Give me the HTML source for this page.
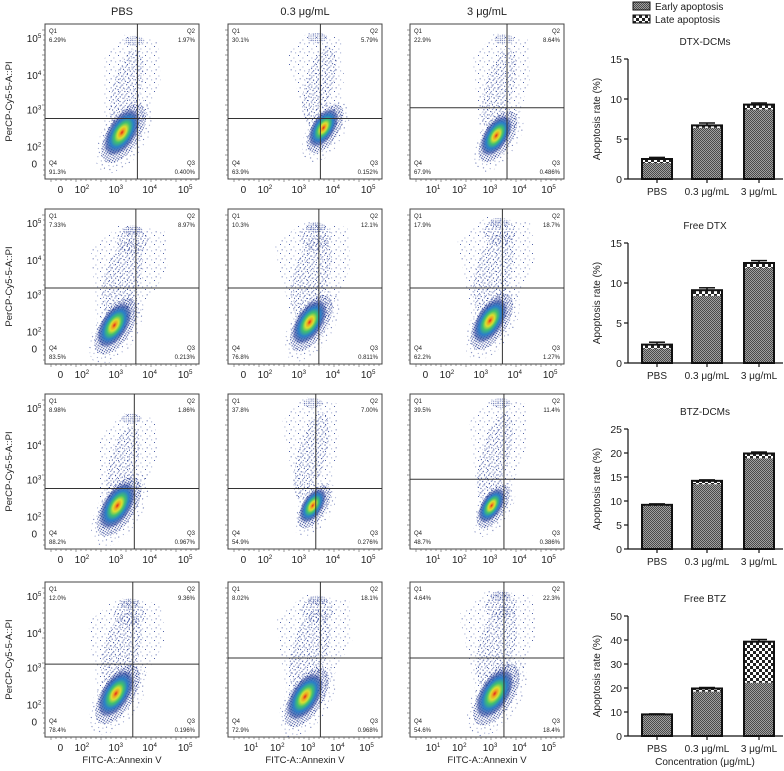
<!DOCTYPE html>
<html><head><meta charset="utf-8">
<style>
html,body{margin:0;padding:0;background:#fff;}
body{width:784px;height:771px;overflow:hidden;font-family:"Liberation Sans",Arial,sans-serif;}
svg{display:block}
</style></head>
<body>
<svg id="fig" width="784" height="771" viewBox="0 0 784 771" xmlns="http://www.w3.org/2000/svg" font-family="Liberation Sans, Arial, sans-serif">
<defs>
<pattern id="dotsDense" width="2.2" height="2.2" patternUnits="userSpaceOnUse"><rect x="0.3" y="0.3" width="1.1" height="1.1" fill="#1a2f8c"/></pattern>
<pattern id="dotsMid" width="7" height="7" patternUnits="userSpaceOnUse"><rect x="0.5" y="0.6" width="1" height="1" fill="#24398f"/><rect x="3.1" y="2.2" width="0.9" height="0.9" fill="#3a4fa5"/><rect x="5.4" y="4.6" width="1" height="1" fill="#24398f"/><rect x="1.8" y="5.1" width="0.9" height="0.9" fill="#4a5fb0"/><rect x="4.6" y="0.2" width="0.8" height="0.8" fill="#24398f"/><rect x="2.5" y="3.6" width="0.8" height="0.8" fill="#24398f"/></pattern>
<pattern id="dotsSparse" width="9" height="9" patternUnits="userSpaceOnUse"><rect x="1" y="1" width="0.9" height="0.9" fill="#2a3f95"/><rect x="5.5" y="3.6" width="0.8" height="0.8" fill="#5a6cb0"/><rect x="2.7" y="6.4" width="0.9" height="0.9" fill="#2a3f95"/><rect x="7.3" y="7.5" width="0.8" height="0.8" fill="#5a6cb0"/></pattern>
<pattern id="early" width="2" height="2" patternUnits="userSpaceOnUse"><rect width="2" height="2" fill="#a0a0a0"/><rect width="1" height="1" fill="#4a4a4a"/><rect x="1" y="1" width="1" height="1" fill="#4a4a4a"/></pattern>
<pattern id="late" width="6" height="6" patternUnits="userSpaceOnUse"><rect width="6" height="6" fill="#fff"/><rect width="3" height="3" fill="#222"/><rect x="3" y="3" width="3" height="3" fill="#222"/></pattern>
<radialGradient id="blobG" cx="50%" cy="50%" r="50%">
<stop offset="0" stop-color="#e0241c"/><stop offset="0.12" stop-color="#f0a020"/><stop offset="0.25" stop-color="#d8e030"/><stop offset="0.42" stop-color="#40c070"/><stop offset="0.62" stop-color="#2a80c8"/><stop offset="0.85" stop-color="#24409a" stop-opacity="0.6"/><stop offset="1" stop-color="#24409a" stop-opacity="0"/>
</radialGradient>
</defs>
<g id="flow"></g>
<g id="bars"></g>
</svg>
<script>
// ---------- Flow cytometry data ----------
const colTitles = ["PBS", "0.3 μg/mL", "3 μg/mL"];
const q1 = [["6.29%","30.1%","22.9%"],["7.33%","10.3%","17.9%"],["8.98%","37.8%","39.5%"],["12.0%","8.02%","4.64%"]];
const q2 = [["1.97%","5.79%","8.64%"],["8.97%","12.1%","18.7%"],["1.86%","7.00%","11.4%"],["9.36%","18.1%","22.3%"]];
const q3 = [["0.400%","0.152%","0.486%"],["0.213%","0.811%","1.27%"],["0.967%","0.276%","0.386%"],["0.196%","0.968%","18.4%"]];
const q4 = [["91.3%","63.9%","67.9%"],["83.5%","76.8%","62.2%"],["88.2%","54.9%","48.7%"],["78.4%","72.9%","54.6%"]];
// quadrant gate positions (fraction of box)
const gateX = [[0.60,0.60,0.63],[0.59,0.59,0.60],[0.58,0.57,0.61],[0.57,0.60,0.61]];
const gateY = [[0.61,0.61,0.54],[0.51,0.51,0.51],[0.61,0.61,0.55],[0.53,0.49,0.49]];
// main population centre (fraction) and size
const blobX = [[0.50,0.62,0.56],[0.45,0.53,0.52],[0.47,0.55,0.53],[0.46,0.50,0.55]];
const blobY = [[0.70,0.67,0.72],[0.75,0.73,0.72],[0.72,0.72,0.72],[0.72,0.74,0.72]];
const blobS = [[1.15,0.95,1.0],[1.1,1.1,1.1],[1.15,0.85,0.85],[1.15,1.15,1.2]];
// upper (PI+) scatter tail: top y fraction and density (0-2)
const tailTop = [[0.07,0.05,0.06],[0.10,0.08,0.05],[0.12,0.02,0.02],[0.10,0.08,0.05]];
const tailDen = [[1,1,1],[2,2,2],[1,1,1],[2,2,2]];
const useTen1 = [[0,0,1],[0,0,0],[0,0,1],[0,1,1]];

const boxL = [45, 228, 410];
const boxT = [24, 209, 394, 582];
const boxW = 154, boxH = 155;

const NS = "http://www.w3.org/2000/svg";
function mk(tag, attrs, parent){ const e=document.createElementNS(NS,tag); for(const k in attrs) e.setAttribute(k,attrs[k]); if(parent) parent.appendChild(e); return e; }
function txt(parent, x, y, s, size, anchor, extra){ const t=mk("text",Object.assign({x:x,y:y,"font-size":size,"text-anchor":anchor||"start",fill:"#222"},extra||{}),parent); t.textContent=s; return t; }
function pow(parent,x,y,b,e,size){ const t=mk("text",{x:x,y:y,"font-size":size,"text-anchor":"middle",fill:"#222"},parent); t.textContent=b; const s=mk("tspan",{dy:-4,"font-size":size*0.62},t); s.textContent=e; return t; }

const flow = document.getElementById("flow");
for(let c=0;c<3;c++){
  const t = txt(flow, boxL[c]+boxW/2, 15, colTitles[c], 11, "middle");
  
  
}
for(let r=0;r<4;r++){
  for(let c=0;c<3;c++){
    const L=boxL[c], T=boxT[r];
    const g = mk("g",{},flow);
    
    
    mk("rect",{x:L,y:T,width:boxW,height:boxH,fill:"#fff",stroke:"#444","stroke-width":1},g);
    const clip = mk("clipPath",{id:"cl"+r+c},g);
    mk("rect",{x:L,y:T,width:boxW,height:boxH},clip);
    const cg = mk("g",{"clip-path":"url(#cl"+r+c+")"},g);
    const bx=L+blobX[r][c]*boxW, by=T+blobY[r][c]*boxH, s=blobS[r][c];
    const tx=L+(gateX[r][c]-0.02)*boxW, ty=T+tailTop[r][c]*boxH;
    // tail scatter
    const tw = 16+tailDen[r][c]*8;
    const tail = mk("polygon",{points:`${bx-16*s},${by} ${tx-tw*1.3},${ty+25} ${tx-tw*0.4},${ty} ${tx+tw},${ty+6} ${tx+tw*1.1},${ty+45} ${bx+18*s},${by-4}`,fill:"url(#dotsSparse)"},cg);
    
    
    mk("ellipse",{cx:(bx+tx)/2,cy:(by+ty)/2+5,rx:10+tailDen[r][c]*4,ry:Math.abs(by-ty)/2.4,transform:`rotate(15 ${(bx+tx)/2} ${(by+ty)/2})`,fill:"url(#dotsMid)"},cg);
    if(tailDen[r][c]>1) mk("ellipse",{cx:tx,cy:ty+16,rx:16,ry:13,fill:"url(#dotsMid)"},cg);
    mk("ellipse",{cx:tx,cy:ty+6,rx:10,ry:5,fill:"url(#dotsDense)",opacity:0.6},cg);
    // main population
    const rot=`rotate(-58 ${bx} ${by})`;
    mk("ellipse",{cx:bx-2,cy:by+4,rx:36*s,ry:19*s,transform:rot,fill:"url(#dotsSparse)"},cg);
    mk("ellipse",{cx:bx,cy:by+2,rx:29*s,ry:14*s,transform:rot,fill:"url(#dotsDense)",opacity:0.9},cg);
    const core = mk("ellipse",{cx:bx,cy:by,rx:23*s,ry:12*s,transform:rot,fill:"url(#blobG)"},cg);
    
    
    // gates
    const gx=L+gateX[r][c]*boxW, gy=T+gateY[r][c]*boxH;
    mk("line",{x1:gx,y1:T,x2:gx,y2:T+boxH,stroke:"#333","stroke-width":1},g);
    mk("line",{x1:L,y1:gy,x2:L+boxW,y2:gy,stroke:"#333","stroke-width":1},g);
    // quadrant labels
    txt(g,L+4,T+9,"Q1",6); txt(g,L+4,T+18,q1[r][c],6);
    txt(g,L+boxW-4,T+9,"Q2",6,"end"); txt(g,L+boxW-4,T+18,q2[r][c],6,"end");
    txt(g,L+4,T+boxH-14,"Q4",6); txt(g,L+4,T+boxH-5,q4[r][c],6);
    txt(g,L+boxW-4,T+boxH-14,"Q3",6,"end"); txt(g,L+boxW-4,T+boxH-5,q3[r][c],6,"end");
    for(let i=0;i<30;i++){ const x=L+6+i*5; mk("line",{x1:x,y1:T+boxH,x2:x,y2:T+boxH+(i%5==0?3:2),stroke:"#555","stroke-width":0.6},g); }
    for(let i=0;i<30;i++){ const y=T+6+i*5; mk("line",{x1:L,y1:y,x2:L-(i%5==0?3:2),y2:y,stroke:"#555","stroke-width":0.6},g); }
    const xl = T+boxH+14;
    if(useTen1[r][c]){
      const fx=[0.15,0.32,0.52,0.71,0.90], ex=["1","2","3","4","5"];
      for(let i=0;i<5;i++) pow(g,L+fx[i]*boxW,xl,"10",ex[i],10);
    } else {
      txt(g,L+0.10*boxW,xl,"0",10,"middle");
      const fx=[0.24,0.46,0.68,0.91], ex=["2","3","4","5"];
      for(let i=0;i<4;i++) pow(g,L+fx[i]*boxW,xl,"10",ex[i],10);
    }
    if(c===0){
      const fy=[0.09,0.33,0.55,0.79,0.90], ey=["5","4","3","2",""];
      for(let i=0;i<5;i++){
        if(ey[i]) { pow(g,L-11,T+fy[i]*boxH+4,"10",ey[i],10); }
        else txt(g,L-8,T+fy[i]*boxH+4,"0",10,"end");
      }
      const yl = txt(g,0,0,"PerCP-Cy5-5-A::PI",9.5,"middle",{transform:`translate(12 ${T+boxH/2}) rotate(-90)`});
      
      
    }
    if(r===3){
      const xt = txt(g,L+boxW/2,763,"FITC-A::Annexin V",9.5,"middle");
      
      
    }
  }
}

// ---------- Bar chart data ----------
const barCats = ["PBS", "0.3 μg/mL", "3 μg/mL"];
const chartTitles = ["DTX-DCMs", "Free DTX", "BTZ-DCMs", "Free BTZ"];
const earlyVals = [[2.0, 6.4, 8.7], [1.8, 8.4, 11.9], [9.0, 13.5, 18.9], [9.0, 18.5, 22.2]];
const lateVals  = [[0.5, 0.3, 0.6], [0.5, 0.7, 0.6], [0.2, 0.7, 1.0], [0.0, 1.3, 17.1]];
const errVals   = [[0.2, 0.3, 0.2], [0.3, 0.3, 0.3], [0.2, 0.2, 0.3], [0.2, 0.4, 0.9]];
const yMaxes = [15, 15, 25, 50];
const yStep  = [5, 5, 5, 10];

const zeroY = [179, 363, 549, 736];
const plotH = 120, axisX = 628, axisR = 783;
const barCenters = [657, 707, 759], barW = 30;
const bars = document.getElementById("bars");

const lg = mk("g",{},bars);


mk("rect",{x:633,y:2,width:17,height:8,fill:"url(#early)",stroke:"#111","stroke-width":1},lg);
txt(lg,655,10,"Early apoptosis",10);
mk("rect",{x:633,y:15,width:17,height:8,fill:"url(#late)",stroke:"#111","stroke-width":1},lg);
txt(lg,655,23,"Late apoptosis",10);

for(let k=0;k<4;k++){
  const g = mk("g",{},bars);
  
  
  const y0 = zeroY[k];
  const yS = v => y0 - v/yMaxes[k]*plotH;
  txt(g,705,y0-plotH-14,chartTitles[k],10,"middle");
  mk("line",{x1:axisX,y1:yS(yMaxes[k]),x2:axisX,y2:y0,stroke:"#111","stroke-width":1.2},g);
  mk("line",{x1:axisX,y1:y0,x2:axisR,y2:y0,stroke:"#111","stroke-width":1.2},g);
  for(let v=0; v<=yMaxes[k]; v+=yStep[k]){
    mk("line",{x1:axisX-4,y1:yS(v),x2:axisX,y2:yS(v),stroke:"#111","stroke-width":1.2},g);
    txt(g,axisX-6,yS(v)+4,String(v),10.5,"end");
  }
  for(let i=0;i<3;i++){
    mk("line",{x1:barCenters[i],y1:y0,x2:barCenters[i],y2:y0+4,stroke:"#111","stroke-width":1.2},g);
    txt(g,barCenters[i],y0+16,barCats[i],10,"middle");
    const e=earlyVals[k][i], l=lateVals[k][i], tot=e+l, er=errVals[k][i];
    const xL = barCenters[i]-barW/2;
    mk("line",{x1:barCenters[i],y1:yS(tot),x2:barCenters[i],y2:yS(tot+er),stroke:"#111","stroke-width":1.5},g);
    mk("line",{x1:barCenters[i]-8,y1:yS(tot+er),x2:barCenters[i]+8,y2:yS(tot+er),stroke:"#111","stroke-width":1.5},g);
    const be = mk("rect",{x:xL,y:yS(e),width:barW,height:y0-yS(e),fill:"url(#early)"},g);
    
    
    if(l>0){
      const bl = mk("rect",{x:xL,y:yS(tot),width:barW,height:yS(e)-yS(tot),fill:"url(#late)"},g);
      
      
    }
    mk("rect",{x:xL,y:yS(tot),width:barW,height:y0-yS(tot),fill:"none",stroke:"#111","stroke-width":2},g);
  }
  txt(g,0,0,"Apoptosis rate (%)",10,"middle",{transform:`translate(600 ${y0-plotH/2}) rotate(-90)`});
}
const ct = txt(bars,705,765,"Concentration (μg/mL)",10,"middle");


</script>
</body></html>
